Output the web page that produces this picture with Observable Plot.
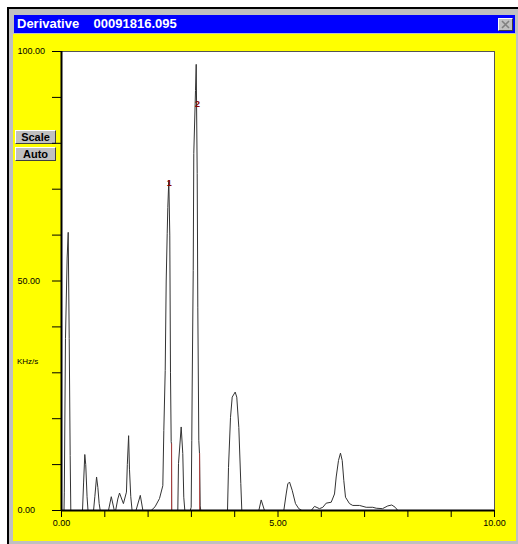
<!DOCTYPE html>
<html>
<head>
<meta charset="utf-8">
<script src="https://cdn.jsdelivr.net/npm/d3@7"></script>
<script src="https://cdn.jsdelivr.net/npm/@observablehq/plot@0.6"></script>
<style>
  html, body { margin: 0; padding: 0; overflow: hidden; background: #fff; }
  #page { position: relative; width: 518px; height: 544px; font-family: "Liberation Sans", Arial, sans-serif; }
  .abs { position: absolute; box-sizing: border-box; }
  #frame { left: 7px; top: 7px; width: 511px; height: 537px; background: #c0c0c0; border-top: 2px solid #000; border-left: 2px solid #000; }
  #titlebar { left: 14px; top: 15px; width: 501px; height: 18px; background: #0000ff; color: #fff; font-weight: bold; font-size: 13px; line-height: 18px; padding-left: 3px; white-space: pre; }
  #close { left: 498px; top: 18px; width: 15px; height: 13px; background: #c0c0c0; border-top: 1px solid #fff; border-left: 1px solid #fff; border-right: 1px solid #404040; border-bottom: 1px solid #404040; }
  #yellow { left: 13px; top: 34px; width: 503px; height: 507px; background: #ffff00; }
  .btn { left: 15px; width: 41px; height: 14px; background: #c0c0c0; border-top: 1px solid #fff; border-left: 1px solid #fff; border-right: 1px solid #404040; border-bottom: 1px solid #404040; font-weight: bold; font-size: 11px; line-height: 12px; text-align: center; color: #000; }
  #unit { left: 17px; top: 357px; font-size: 8px; color: #000; }
  #chart { left: 0; top: 0; }
</style>
</head>
<body>
<div id="page">
  <div id="frame" class="abs"></div>
  <div id="titlebar" class="abs">Derivative    00091816.095</div>
  <div id="close" class="abs"><svg width="13" height="11" style="display:block"><path d="M3,2 L10,9 M10,2 L3,9" stroke="#808080" stroke-width="1.6"/></svg></div>
  <div id="yellow" class="abs"></div>
  <div class="abs btn" style="top:130px">Scale</div>
  <div class="abs btn" style="top:147px">Auto</div>
  <div id="unit" class="abs">KHz/s</div>
  <div id="chart" class="abs"></div>
</div>
<script>
// Derivative trace
const derivX = [0, 0.058, 0.065, 0.092, 0.13, 0.155, 0.178, 0.20, 0.215,
  0.485, 0.51, 0.538, 0.56, 0.59, 0.612,
  0.74, 0.77, 0.81, 0.84, 0.87, 0.894,
  1.085, 1.15, 1.22,
  1.25, 1.30, 1.34, 1.43, 1.50, 1.52, 1.55, 1.57, 1.60, 1.63,
  1.72, 1.82, 1.88,
  2.07, 2.16, 2.263, 2.34, 2.363, 2.395, 2.418, 2.441, 2.455, 2.478, 2.501, 2.517, 2.533, 2.540, 2.545,
  2.686, 2.702, 2.764, 2.801, 2.824, 2.848,
  2.972, 2.995, 3.009, 3.018, 3.042, 3.055, 3.095, 3.111, 3.134, 3.148, 3.171, 3.187, 3.203, 3.217,
  3.834, 3.857, 3.903, 3.942, 4.011, 4.048, 4.095, 4.141, 4.164,
  4.557, 4.612, 4.688,
  5.134, 5.189, 5.226, 5.266, 5.328, 5.404, 5.480, 5.55,
  5.767, 5.843, 5.958, 6.035, 6.113, 6.229, 6.305, 6.344, 6.397, 6.443, 6.483, 6.520, 6.559, 6.651,
  6.727, 6.882, 7.037, 7.189, 7.268, 7.413, 7.536, 7.628, 7.707, 7.767,
  10];
const derivY = [0, 0, 4, 37.5, 55, 60.6, 37.5, 12, 0,
  0, 6, 12.2, 10, 3, 0,
  0, 3, 7.3, 5, 1.5, 0,
  0, 3.0, 0,
  0, 2.5, 3.8, 1.5, 4, 10, 16.3, 9, 3, 0,
  0, 3.3, 0,
  0, 0.8, 2.6, 5.4, 17.4, 30.5, 50, 60.3, 66, 71.9, 60, 30, 15, 14.5, 0,
  0, 10.2, 18.2, 12.4, 2.9, 0,
  0, 0.7, 15.3, 26.9, 52.3, 77.8, 91.5, 97.2, 73.4, 44.3, 15.3, 12.4, 1, 0,
  0, 9.4, 20.3, 24.7, 25.8, 24.7, 18.1, 5.9, 0,
  0, 2.3, 0,
  0, 3.6, 5.8, 6.2, 4.4, 1.5, 0.4, 0,
  0, 0.9, 0.4, 0.7, 1.6, 1.8, 3.6, 7.3, 10.9, 12.5, 10.9, 6.5, 2.9, 1.5,
  1.1, 1.1, 0.7, 0.7, 0.5, 0.4, 1.0, 1.2, 0.7, 0,
  0];

// Peak markers
const peakNames = ["1", "2"];
const peakX = [2.49, 3.14];
const peakY = [71.5, 88.7];
const dropX = [2.543, 3.19];
const dropTop = [14.5, 12.4];

// Axes
const xTicks = [0, 1, 2, 3, 4, 5, 6, 7, 8, 9, 10];
const xLabels = [0, 5, 10];
const yTicks = [0, 10, 20, 30, 40, 50, 60, 70, 80, 90, 100];
const yLabels = [0, 50, 100];

const trace = derivX.map((x, i) => ({x, y: derivY[i]}));
const peaks = peakNames.map((n, i) => ({n, x: peakX[i], y: peakY[i]}));
const drops = dropX.map((x, i) => ({x, y: dropTop[i]}));

const chart = Plot.plot({
  width: 518,
  height: 544,
  marginLeft: 61,
  marginRight: 24,
  marginTop: 51,
  marginBottom: 34,
  x: {domain: [0, 10]},
  y: {domain: [0, 100]},
  style: {background: "transparent", fontFamily: "Liberation Sans, Arial, sans-serif", fontSize: "9px", color: "#000", overflow: "visible"},
  marks: [
    Plot.frame({fill: "#fff", stroke: "#555"}),
    Plot.line(trace, {x: "x", y: "y", stroke: "#333", strokeWidth: 1}),
    Plot.ruleX(drops, {x: "x", y1: 0, y2: "y", stroke: "#b04040", strokeWidth: 1}),
    Plot.text(peaks, {x: "x", y: "y", text: "n", fill: "#8b0000", fontWeight: "bold", fontSize: 9, dy: 1}),
    Plot.ruleX([0], {stroke: "#000", strokeWidth: 2}),
    Plot.ruleY([0], {stroke: "#000", strokeWidth: 2}),
    Plot.axisX({ticks: xTicks, tickSize: 7, tickPadding: 2, label: null, stroke: "#000",
      tickFormat: d => xLabels.includes(d) ? d.toFixed(2) : ""}),
    Plot.axisY({ticks: yTicks, tickSize: 9, label: null, stroke: "#000", tickFormat: () => ""}),
    Plot.axisY({ticks: yLabels, tickSize: 0, tickPadding: 3, label: null,
      textAnchor: "start", dx: -41,
      tickFormat: d => d.toFixed(2)})
  ]
});
document.getElementById("chart").appendChild(chart);
</script>
</body>
</html>
